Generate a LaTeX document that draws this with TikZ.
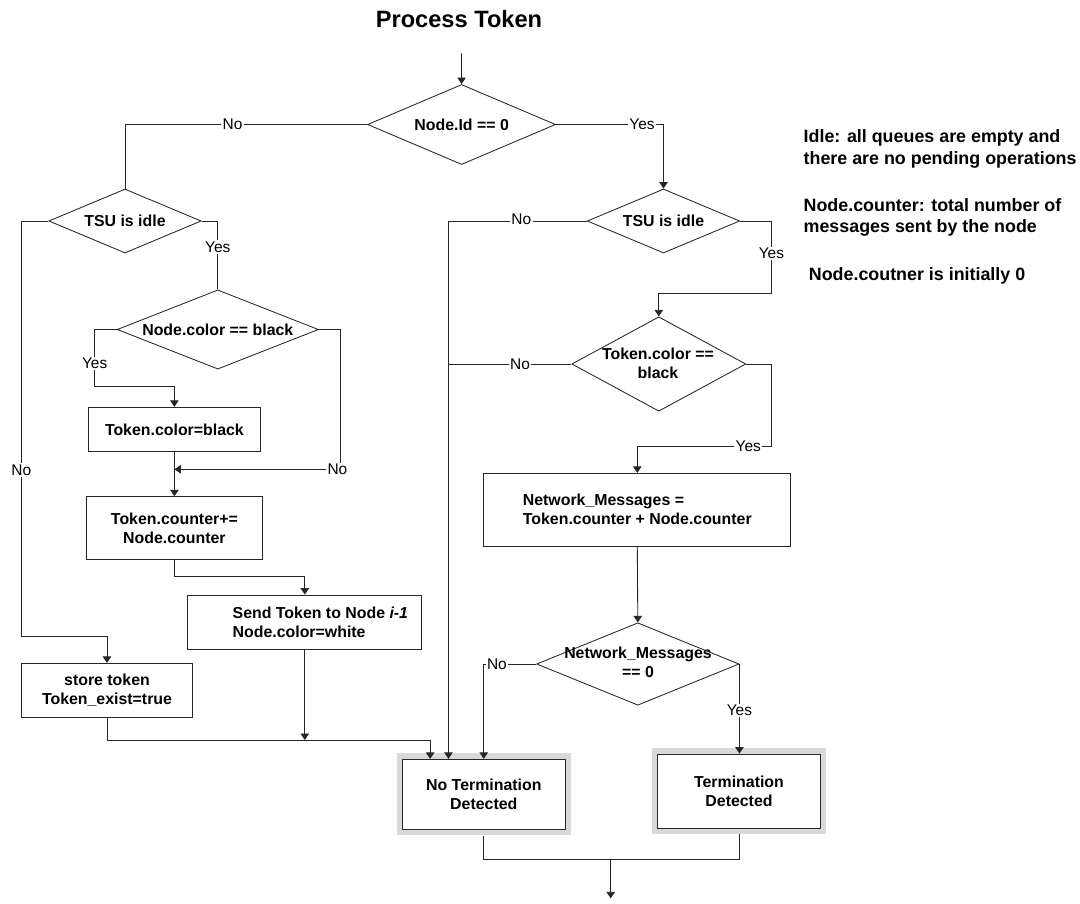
\documentclass[tikz,border=0pt]{standalone}
\usepackage{fontspec}
\setmainfont{Liberation Sans}
\usetikzlibrary{arrows.meta,shapes.geometric,calc}

\begin{document}
\begin{tikzpicture}[x=0.025cm,y=-0.025cm,
  line/.style={draw=black!85, line width=0.6pt},
  arr/.style={line, -{Triangle[width=6pt,length=4.6pt]}},
  decision/.style={draw=black!85, line width=0.6pt, shape=diamond, inner sep=0pt, fill=white},
  dtext/.style={font=\fontsize{11.3}{13.5}\selectfont\bfseries, align=center, inner sep=0pt},
  stepbox/.style={draw=black!85, line width=0.6pt, fill=white,
    font=\fontsize{11.3}{13.5}\selectfont\bfseries, align=center, inner sep=2pt},
  endbox/.style={stepbox, preaction={draw=black!15, line width=8.5pt}},
  lbl/.style={fill=white, inner sep=1pt, font=\fontsize{11}{13}\selectfont},
  note/.style={font=\fontsize{12.7}{15.4}\selectfont\bfseries, align=left, inner sep=0pt, anchor=west},
]
\useasboundingbox[fill=white] (0,0) rectangle (1080,903);

% title and entry
\node[font=\fontsize{16.8}{20}\selectfont\bfseries] (title) at (459,19.5) {Process Token};
\coordinate (start) at (461.5,53.3);

% decisions
\node[decision, minimum width=4.7cm, minimum height=2cm] (d1) at (461.6,124.5) {};
\node[dtext] (d1t) at (d1) {Node.Id == 0};
\node[decision, minimum width=3.81cm, minimum height=1.6cm] (tsu1) at (125,221) {};
\node[dtext] (tsu1t) at (tsu1) {TSU is idle};
\node[decision, minimum width=3.81cm, minimum height=1.6cm] (tsu2) at (663.5,221) {};
\node[dtext] (tsu2t) at (tsu2) {TSU is idle};
\node[decision, minimum width=5.03cm, minimum height=1.98cm] (d3) at (217.8,329.5) {};
\node[dtext] (d3t) at (d3) {Node.color == black};
\node[decision, minimum width=4.35cm, minimum height=2.36cm] (d4) at (658.8,364) {};
\node[dtext] (d4t) at (658,363.4) {Token.color ==\\black};
\node[decision, minimum width=5.06cm, minimum height=2.06cm] (d5) at (637.8,664) {};
\node[dtext] (d5t) at (638,662.8) {Network\_Messages\\== 0};

% process boxes
\node[stepbox, minimum width=4.28cm, minimum height=1.11cm] (b1) at (174.4,429.5) {Token.color=black};
\node[stepbox, minimum width=4.42cm, minimum height=1.565cm] (b2) at (174.4,528) {Token.counter+=\\Node.counter};
\node[stepbox, minimum width=5.85cm, minimum height=1.36cm] (b3) at (304.8,622.2) {};
\node[dtext, anchor=west, align=left] (b3t) at (232.4,622.2) {Send Token to Node \textit{i-1}\\Node.color=white};
\node[stepbox, minimum width=4.29cm, minimum height=1.35cm] (b4) at (107,690.3) {store token\\Token\_exist=true};
\node[stepbox, align=left, minimum width=7.67cm, minimum height=1.82cm] (b5) at (637.3,509.7) {Network\_Messages =\\Token.counter + Node.counter};

% outcomes
\node[endbox, minimum width=4.06cm, minimum height=1.75cm] (noterm) at (483.8,794.3) {No Termination\\Detected};
\node[endbox, minimum width=4.065cm, minimum height=1.86cm] (term) at (739,791.2) {Termination\\Detected};

% notes
\node[note] (n1) at (803.4,149.2) {Idle: all queues are empty and\\there are no pending operations};
\node[note] (n2) at (803.4,217.5) {Node.counter: total number of\\messages sent by the node};
\node[note] (n3) at (808.6,276) {Node.coutner is initially 0};

% junction points
\coordinate (j1) at (174.4,469.3);
\coordinate (j2) at (304.8,740);
\coordinate (j3) at (449,364);
\coordinate (jm) at (610.7,859.3);
\coordinate (fin) at (610.7,898.3);

% connectors
\draw[arr] (start) -- (d1.north);
\draw[line] (d1.west) -| node[lbl,pos=0.278]{No} (tsu1.north);
\draw[arr] (d1.east) -| node[lbl,pos=0.4]{Yes} (tsu2.north);

\draw[arr] (tsu1.west) -| node[lbl,pos=0.8]{No} (21.3,636) -| (b4.north);
\draw[line] (tsu1.east) -| node[lbl,pos=0.69]{Yes} (d3.north);
\draw[arr] (d3.west) -| node[lbl,pos=0.8]{Yes} (94.7,386) -| (b1.north);
\draw[arr] (d3.east) -| (340.2,469.3) -- node[lbl,pos=0,xshift=-2pt]{No} (j1);
\draw[arr] (b1.south) -- (b2.north);
\draw[arr] (b2.south) -- ++(0,17) -| (b3.north);
\draw[arr] (b3.south) -- (j2);
\draw[arr] (b4.south) |- (j2) -| ($(noterm.north west)+(28,0)$);

\draw[arr] (tsu2.west) -| node[lbl,pos=0.237,yshift=1pt]{No} ($(noterm.north west)+(46.3,0)$);
\draw[arr] (tsu2.east) -| node[lbl,pos=0.725]{Yes} (771.4,293.3) -| (d4.north);
\draw[line] (d4.west) -- node[lbl,pos=0.42]{No} (j3);
\draw[arr] (d4.east) -| (771.7,446.7) -| node[lbl,pos=0.087]{Yes} (b5.north);
\draw[arr] (b5.south) -- (d5.north);
\draw[arr] (d5.west) -| node[lbl,pos=0.375]{No} (noterm.north);
\draw[arr] (d5.east) -- node[lbl,pos=0.52]{Yes} (d5.east |- term.north);

\draw[line] ($(noterm.south)+(0,6.7)$) |- (jm) -| ($(term.south)+(0,5)$);
\draw[arr] (jm) -- (fin);
\end{tikzpicture}
\end{document}
